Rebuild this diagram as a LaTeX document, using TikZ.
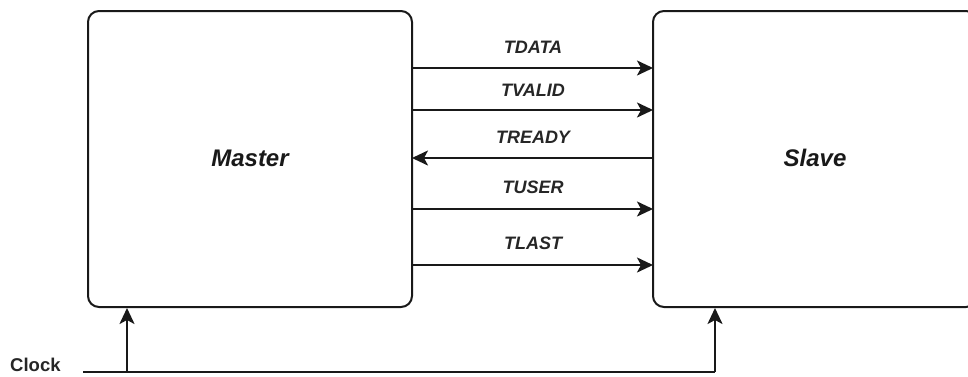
\documentclass[tikz,border=0pt]{standalone}
\usepackage{fontspec}
\setmainfont{Liberation Sans}
\usetikzlibrary{arrows.meta}
\begin{document}
\begin{tikzpicture}[x=1pt,y=-1pt,
  blk/.style={draw=black!90,line width=2pt,rounded corners=11pt,fill=white},
  sig/.style={draw=black!90,line width=2.2pt,-{Stealth[length=16pt,width=15pt,inset=4pt]}},
  lbl/.style={font=\fontsize{18}{20}\selectfont\bfseries\itshape,inner sep=0pt,text=black!85},
  big/.style={font=\fontsize{24}{26}\selectfont\bfseries\itshape,text=black!90}]
\useasboundingbox (0,0) rectangle (968,376);
\begin{scope}
\clip (0,0) rectangle (968,376);
\draw[blk] (88,11) rectangle (412,307);
\draw[blk] (653,11) rectangle (977,307);
\end{scope}
\node[big] (master) at (250,158) {Master};
\node[big] (slave) at (815,158) {Slave};
% signals
\coordinate (m1) at (412,68);  \coordinate (s1) at (653,68);
\coordinate (m2) at (412,110); \coordinate (s2) at (653,110);
\coordinate (m3) at (412,158); \coordinate (s3) at (653,158);
\coordinate (m4) at (412,209); \coordinate (s4) at (653,209);
\coordinate (m5) at (412,265); \coordinate (s5) at (653,265);
\draw[sig] (m1) -- (s1);
\draw[sig] (m2) -- (s2);
\draw[sig] (s3) -- (m3);
\draw[sig] (m4) -- (s4);
\draw[sig] (m5) -- (s5);
\node[lbl] (l1) at (533,47) {TDATA};
\node[lbl] (l2) at (533,90) {TVALID};
\node[lbl] (l3) at (533,137) {TREADY};
\node[lbl] (l4) at (533,187) {TUSER};
\node[lbl] (l5) at (533,243) {TLAST};
% clock
\node[font=\fontsize{18.5}{20}\selectfont\bfseries,inner sep=0pt,anchor=west,text=black!85] (clk) at (10,365) {Clock};
\coordinate (c0) at (83,372);
\coordinate (cm) at (127,372);
\coordinate (cs) at (715,372);
\coordinate (mb) at (127,308);
\coordinate (sb) at (715,308);
\draw[draw=black!90,line width=2.2pt] (c0) -- (cs);
\draw[sig] (cm) -- (mb);
\draw[sig] (cs) -- (sb);
\end{tikzpicture}
\end{document}
